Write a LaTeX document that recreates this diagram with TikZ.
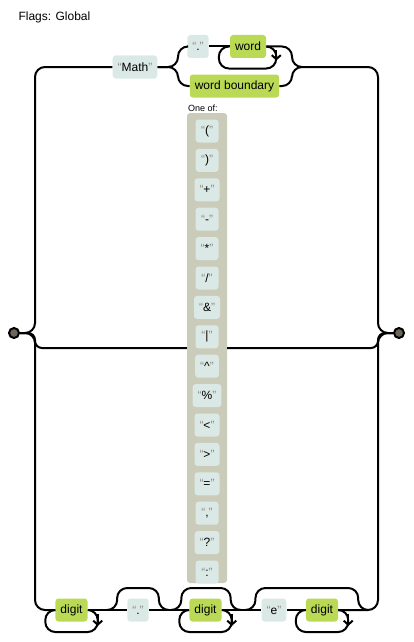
\documentclass[tikz,border=0pt]{standalone}
\usepackage{fontspec}
\setmainfont{Liberation Sans}
\usetikzlibrary{positioning,calc,arrows.meta}

\definecolor{litfill}{HTML}{DAE9E5}
\definecolor{classfill}{HTML}{BADA55}
\definecolor{setfill}{HTML}{CBCBBA}
\definecolor{termfill}{HTML}{6B6659}
\definecolor{quotegray}{HTML}{908C83}
\newcommand{\quoted}[1]{\textcolor{quotegray}{“}#1\textcolor{quotegray}{”}}

\begin{document}
\begin{tikzpicture}[
    x=1pt, y=-1pt,
    node distance=6pt,
    literal/.style={rectangle, fill=litfill, rounded corners=3pt, minimum height=23pt, minimum width=20pt, inner xsep=5pt, inner ysep=0pt, font=\fontsize{12}{14}\selectfont},
    charclass/.style={literal, fill=classfill},
    setitem/.style={literal, minimum width=23pt},
    charset/.style={rectangle, fill=setfill, rounded corners=3pt, minimum width=40pt, minimum height=470pt},
    terminal/.style={circle, draw, line width=2pt, fill=termfill, minimum size=10pt, inner sep=0pt},
    rail/.style={line width=2pt, rounded corners=10pt},
    loopback/.style={line width=2pt, -{Straight Barb[length=4pt,width=9pt]}}
]
    \useasboundingbox (0,0) rectangle (414,642);

    % Flags and terminals
    \node [anchor=west, font=\fontsize{12}{14}\selectfont] (flags) at (15,17) {Flags: Global};
    \node [terminal] (start) at (14,333) {};
    \node [terminal] (finish) at (399,333) {};

    % Top branch
    \node [literal] (math) at (135,67) {\quoted{Math}};
    \node [literal] (dot1) at (198,46.5) {\quoted{.}};
    \node [charclass, right=21pt of dot1] (word) {word};
    \node [charclass] (wordb) at (234.5,86) {word boundary};

    % Middle branch
    \node [charset] (oneof) at (207,348) {};
    \node [anchor=south west, inner sep=1pt, font=\fontsize{9}{10}\selectfont] (oneoflabel) at (oneof.north west) {One of:};
    \node [setitem] (lparen) at (207,131) {\quoted{(}};
    \node [setitem, below=of lparen] (rparen) {\quoted{)}};
    \node [setitem, below=of rparen] (plus) {\quoted{+}};
    \node [setitem, below=of plus] (minus) {\quoted{-}};
    \node [setitem, below=of minus] (star) {\quoted{*}};
    \node [setitem, below=of star] (slash) {\quoted{/}};
    \node [setitem, below=of slash] (amp) {\quoted{\&}};
    \node [setitem, below=of amp] (pipe) {\quoted{|}};
    \node [setitem, below=of pipe] (caret) {\quoted{\textasciicircum}};
    \node [setitem, below=of caret] (percent) {\quoted{\%}};
    \node [setitem, below=of percent] (less) {\quoted{<}};
    \node [setitem, below=of less] (greater) {\quoted{>}};
    \node [setitem, below=of greater] (equal) {\quoted{=}};
    \node [setitem, below=of equal] (comma) {\quoted{,}};
    \node [setitem, below=of comma] (quest) {\quoted{?}};
    \node [setitem, below=of quest] (colon) {\quoted{:}};

    % Bottom branch
    \node [charclass] (digit1) at (71.5,610) {digit};
    \node [literal] (dot2) at (138,610) {\quoted{.}};
    \node [charclass] (digit2) at (205.5,610) {digit};
    \node [literal] (lite) at (274,610) {\quoted{e}};
    \node [charclass] (digit3) at (322,610) {digit};

    % Rails, top
    \draw [rail] (start.east) -- (35,333) |- (math.west);
    \draw [rail] (math.east) -- (178,67) |- (dot1.west);
    \draw [rail] (math.east) -- (178,67) |- (wordb.west);
    \draw [rail] (dot1.east) -- (word.west);
    \draw [rail] (word.east) -| (292,67) -- (378,67) -- (378,333) -- (finish.west);
    \draw [rail] (wordb.east) -| (292,67) -- (302,67);
    \draw [rail] (word.east) -- ++(10,0) -- ++(0,22) -| ($(word.west)+(-11,0)$) -- (word.west);
    \draw [loopback] ($(word.east)+(10,4)$) -- ++(0,10);

    % Rails, middle
    \draw [rail, rounded corners=7pt] (start.east) -- (35,333) |- (oneof.west);
    \draw [rail, rounded corners=7pt] (oneof.east) -| (378,333) -- (finish.west);

    % Rails, bottom
    \draw [rail] (start.east) -- (35,333) |- (digit1.west);
    \draw [rail] (digit1.east) -- (dot2.west);
    \draw [rail] (dot2.east) -- (digit2.west);
    \draw [rail] (digit2.east) -- (lite.west);
    \draw [rail] (lite.east) -- (digit3.west);
    \draw [rail] (digit3.east) -| (378,333) -- (finish.west);
    \draw [rail] (digit1.east) -- ++(10,0) -- ++(0,22) -| ($(digit1.west)+(-10,0)$) -- (digit1.west);
    \draw [loopback] ($(digit1.east)+(10,4)$) -- ++(0,12);
    \draw [rail] ($(dot2.west)+(-20,0)$) -| ($(dot2.west)+(-10,-22)$) -| ($(dot2.east)+(10,0)$) -- ++(10,0);
    \draw [rail] ($(digit2.west)+(-18,0)$) -| ($(digit2.west)+(-8,-22)$) -| ($(digit2.east)+(9,0)$) -- ++(10,0);
    \draw [rail] (digit2.east) -- ++(10,0) -- ++(0,22) -| ($(digit2.west)+(-10,0)$) -- (digit2.west);
    \draw [loopback] ($(digit2.east)+(10,4)$) -- ++(0,12);
    \draw [rail] ($(lite.west)+(-16,0)$) -| ($(lite.west)+(-6,-22)$) -| ($(digit3.east)+(20,0)$) -- ++(10,0);
    \draw [rail] (digit3.east) -- ++(10,0) -- ++(0,22) -| ($(digit3.west)+(-10,0)$) -- (digit3.west);
    \draw [loopback] ($(digit3.east)+(10,4)$) -- ++(0,12);
\end{tikzpicture}
\end{document}
